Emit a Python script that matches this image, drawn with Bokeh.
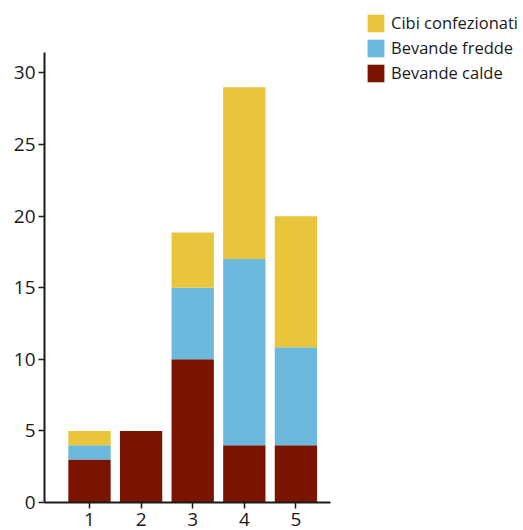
from bokeh.plotting import figure
from bokeh.models import FixedTicker, Legend, LegendItem, Range1d, ColumnDataSource
from bokeh.embed import file_html
from bokeh.resources import INLINE

categories = [1, 2, 3, 4, 5]
bevande_calde = [3, 5, 10, 4, 4]
bevande_fredde = [1, 0, 5, 13, 6.85]
cibi_confezionati = [1, 0, 3.85, 12, 9.15]
series_names = ["Bevande calde", "Bevande fredde", "Cibi confezionati"]
series_colors = ["#7A1300", "#6CB9DE", "#E9C53B"]
y_ticks = [0, 5, 10, 15, 20, 25, 30]

source = ColumnDataSource(data=dict(
    x=categories,
    calde=bevande_calde,
    fredde=bevande_fredde,
    cibi=cibi_confezionati,
))

p = figure(width=523, height=530, output_backend="svg", toolbar_location=None,
           x_range=Range1d(0.128, 9.41), y_range=Range1d(0, 35.06),
           min_border_left=44, min_border_right=0, min_border_top=0,
           min_border_bottom=28)

renderers = p.vbar_stack(["calde", "fredde", "cibi"], x="x", width=0.82,
                         color=series_colors, line_color=None, source=source)

p.xgrid.visible = False
p.ygrid.visible = False
p.outline_line_color = None
p.background_fill_color = "white"
p.border_fill_color = "white"

font = "Open Sans"
for ax in (p.xaxis, p.yaxis):
    ax.axis_line_color = "#1a1a1a"
    ax.axis_line_width = 2
    ax.major_tick_line_color = "#1a1a1a"
    ax.major_tick_line_width = 1.5
    ax.minor_tick_line_color = None
    ax.major_label_text_font = font
    ax.major_label_text_font_size = "19px"
    ax.major_label_text_color = "#1a1a1a"
    ax.major_tick_in = 0

p.xaxis.ticker = FixedTicker(ticks=categories)
p.xaxis.bounds = (0.128, 5.67)
p.xaxis.major_tick_out = 6
p.xaxis.major_label_standoff = 4
p.yaxis.ticker = FixedTicker(ticks=y_ticks)
p.yaxis.bounds = (0, 31.4)
p.yaxis.major_tick_out = 6
p.yaxis.major_label_standoff = 3

items = [LegendItem(label=series_names[i], renderers=[renderers[i]]) for i in (2, 1, 0)]
legend = Legend(items=items, location=(321, 418), orientation="vertical",
                glyph_width=21, glyph_height=22, label_standoff=5, spacing=2,
                padding=0, margin=0, border_line_color=None,
                background_fill_alpha=0,
                label_text_font=font, label_text_font_size="16.5px",
                label_text_color="#1a1a1a")
p.add_layout(legend, "center")

open("out.html", "w").write(file_html(p, INLINE))
